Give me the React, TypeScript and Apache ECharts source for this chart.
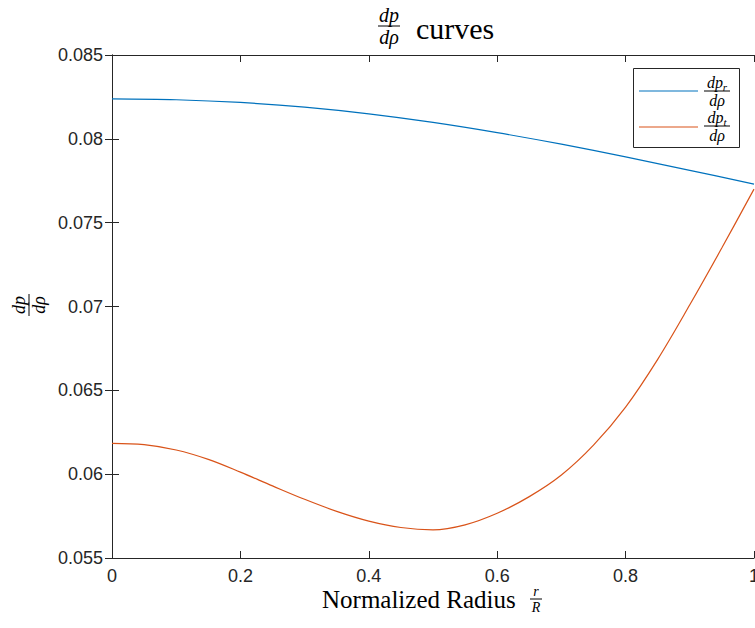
import React, { useEffect, useRef } from "react";
import * as echarts from "echarts";

// Normalized radius samples for each curve
const radiusR = [0, 0.1, 0.2, 0.3, 0.4, 0.5, 0.6, 0.7, 0.8, 0.9, 1.0];
const dpRadial = [0.08238, 0.08233, 0.08217, 0.08189, 0.08149, 0.08098, 0.08037, 0.07968, 0.07892, 0.07812, 0.0773];

const radiusT = [0, 0.05, 0.1, 0.15, 0.2, 0.25, 0.3, 0.35, 0.4, 0.45, 0.5, 0.55, 0.6, 0.65, 0.7, 0.75, 0.8, 0.85, 0.9, 0.95, 1.0];
const dpTangential = [0.06184, 0.06176, 0.06144, 0.06088, 0.06012, 0.0593, 0.0585, 0.05778, 0.0572, 0.05682, 0.05668, 0.05698, 0.05767, 0.05866, 0.05995, 0.06173, 0.064, 0.06685, 0.0701, 0.0735, 0.077];

const yMin = 0.055;
const yMax = 0.085;
const yStep = 0.005;
const xMin = 0;
const xMax = 1;
const xStep = 0.2;

const BLUE = "#0072BD";
const ORANGE = "#D95319";
const AXIS = "#262626";
const SERIF = "Liberation Serif";
const SANS = "Liberation Sans";

function frac(cx: number, lineY: number, half: number, num: any, den: string, size: number, rotation = 0): any {
  return {
    type: "group",
    x: cx,
    y: lineY,
    rotation,
    children: [
      {
        type: "text",
        x: 0,
        y: -1,
        style: { text: num.text, rich: num.rich, fontFamily: SERIF, fontStyle: "italic", fontSize: size, fill: "#000", align: "center", verticalAlign: "bottom" },
      },
      { type: "line", shape: { x1: -half, y1: 0, x2: half, y2: 0 }, style: { stroke: "#000", lineWidth: 1 } },
      {
        type: "text",
        x: 0,
        y: 1,
        style: { text: den, fontFamily: SERIF, fontStyle: "italic", fontSize: size, fill: "#000", align: "center", verticalAlign: "top" },
      },
    ],
  };
}

export default function App() {
  const ref = useRef<HTMLDivElement>(null);
  useEffect(() => {
    if (!ref.current) return;
    const chart = echarts.init(ref.current, null, { renderer: "svg" });
    const sub = (base: string, s: string, size: number) => ({
      text: `{b|${base}}{s|${s}}`,
      rich: {
        b: { fontFamily: SERIF, fontStyle: "italic", fontSize: size, fill: "#000", verticalAlign: "bottom" },
        s: { fontFamily: SERIF, fontStyle: "italic", fontSize: Math.round(size * 0.7), verticalAlign: "bottom", padding: [0, 0, -2, 0] },
      },
    });
    const axisCommon = {
      axisLine: { show: true, lineStyle: { color: AXIS, width: 1 } },
      axisTick: { show: true, inside: true, length: 7, lineStyle: { color: AXIS } },
      splitLine: { show: false },
    };
    chart.setOption({
      animation: false,
      backgroundColor: "#fff",
      grid: { left: 112, right: 1, top: 55, bottom: 70, containLabel: false, outerBoundsMode: "none" },
      xAxis: [
        {
          type: "value", min: xMin, max: xMax, interval: xStep, position: "bottom",
          ...axisCommon,
          axisLabel: { color: AXIS, fontFamily: SANS, fontSize: 18, margin: 9 },
        },
        {
          type: "value", min: xMin, max: xMax, interval: xStep, position: "top",
          ...axisCommon,
          axisLabel: { show: false },
        },
      ],
      yAxis: [
        {
          type: "value", min: yMin, max: yMax, interval: yStep, position: "left",
          ...axisCommon,
          axisLabel: { color: AXIS, fontFamily: SANS, fontSize: 18, margin: 9, formatter: (v: number) => String(+v.toFixed(3)) },
        },
        {
          type: "value", min: yMin, max: yMax, interval: yStep, position: "right",
          ...axisCommon,
          axisLabel: { show: false },
        },
      ],
      series: [
        {
          name: "dpr",
          type: "line",
          data: radiusR.map((r, i) => [r, dpRadial[i]]),
          showSymbol: false,
          smooth: 0.35,
          lineStyle: { color: BLUE, width: 1.2 },
          itemStyle: { color: BLUE },
        },
        {
          name: "dpt",
          type: "line",
          data: radiusT.map((r, i) => [r, dpTangential[i]]),
          showSymbol: false,
          smooth: 0.35,
          lineStyle: { color: ORANGE, width: 1.2 },
          itemStyle: { color: ORANGE },
        },
      ],
      graphic: [
        // title
        frac(389, 26, 11, { text: "dp" }, "dρ", 20),
        { type: "text", x: 416, y: 28, style: { text: "curves", fontFamily: SERIF, fontSize: 30, fill: "#000", verticalAlign: "middle" } },
        // y label
        frac(29, 305, 11, { text: "dp" }, "dρ", 18, Math.PI / 2),
        // x label
        { type: "text", x: 322, y: 599, style: { text: "Normalized Radius", fontFamily: SERIF, fontSize: 25, fill: "#000", verticalAlign: "middle" } },
        frac(536, 599, 6, { text: "r" }, "R", 14),
        // legend
        { type: "rect", shape: { x: 633.5, y: 68.5, width: 106, height: 79 }, style: { fill: "#fff", stroke: AXIS, lineWidth: 1 } },
        { type: "line", shape: { x1: 639, y1: 91, x2: 698, y2: 91 }, style: { stroke: BLUE, lineWidth: 1.2 } },
        { type: "line", shape: { x1: 639, y1: 127, x2: 698, y2: 127 }, style: { stroke: ORANGE, lineWidth: 1.2 } },
        frac(717, 91, 13, sub("dp", "r", 16), "dρ", 16),
        frac(717, 126, 13, sub("dp", "t", 16), "dρ", 16),
      ],
    });
    return () => chart.dispose();
  }, []);
  return <div ref={ref} style={{ position: "absolute", left: 0, top: 0, width: 755, height: 628 }} />;
}
